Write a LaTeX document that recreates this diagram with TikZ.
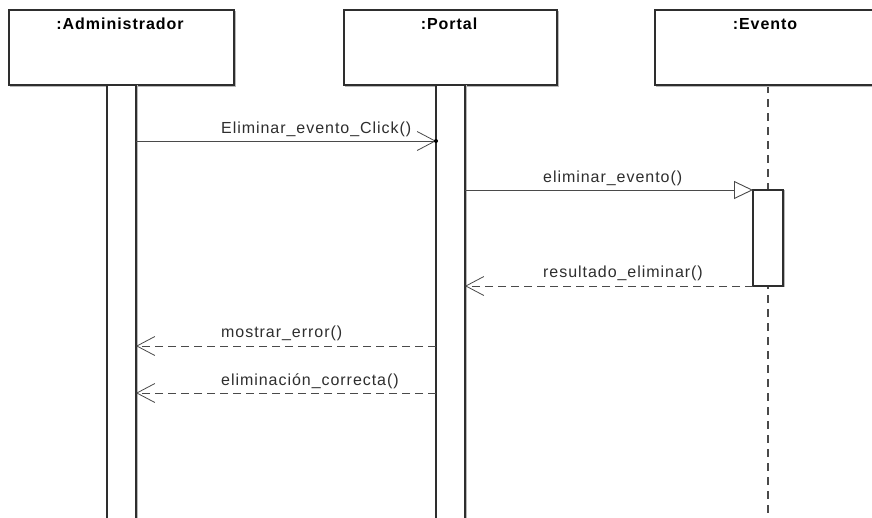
\documentclass[tikz,border=0pt]{standalone}
\usepackage{fontspec}
\setmainfont{Liberation Sans}
\newfontfamily\spacedsans[LetterSpace=6]{Liberation Sans}
\usetikzlibrary{arrows.meta}

\definecolor{ink}{HTML}{2E2E2E}
\definecolor{wire}{HTML}{4A4A4A}
\definecolor{shade}{HTML}{B8B8B8}

\tikzset{
  objbox/.style={draw=ink, line width=1.2pt, fill=white, inner sep=0pt, outer sep=0pt,
    preaction={draw=shade, line width=1pt, transform canvas={shift={(1.5pt,-1.5pt)}}}},
  actbar/.style={draw=ink, line width=1.1pt, fill=white, inner sep=0pt, outer sep=0pt,
    minimum width=29pt,
    preaction={draw=shade, line width=1pt, transform canvas={shift={(1.5pt,0pt)}}}},
  objtitle/.style={font=\spacedsans\fontsize{16}{19}\selectfont\bfseries, text=black, inner sep=0pt, anchor=base},
  msglabel/.style={font=\spacedsans\fontsize{16}{19}\selectfont, text=ink, inner sep=0pt, anchor=base west},
  lifeline/.style={draw=wire, line width=1.1pt, dash pattern=on 8pt off 6pt},
  callmsg/.style={draw=wire, line width=0.9pt},
  returnmsg/.style={draw=wire, line width=0.9pt, dash pattern=on 8pt off 5pt},
  openhead/.style={-{Straight Barb[length=18pt, width=19pt, line width=0.8pt]}},
  trihead/.style={-{Triangle[open, length=19pt, width=18pt, line width=0.9pt, fill=white]}},
}

\begin{document}
\begin{tikzpicture}[x=1pt, y=-1pt]
\useasboundingbox (0,0) rectangle (872,517);
\clip (0,0) rectangle (872,517);
\fill[white] (0,0) rectangle (872,517);

% bottom of the drawing area for the lifelines
\coordinate (bottom) at (0,530);

% lifeline of :Evento (behind its activation box)
\coordinate (evtaxis) at (768,85);
\draw[lifeline] (evtaxis) -- (evtaxis |- bottom);

% object heads
\node[objbox, minimum width=225pt, minimum height=75pt] (adm) at (121.5,47.5) {};
\node[objbox, minimum width=213pt, minimum height=75pt] (ptl) at (450.5,47.5) {};
\node[objbox, minimum width=226pt, minimum height=75pt] (evt) at (768,47.5) {};

\node[objtitle] (admt) at (120,29) {:Administrador};
\node[objtitle] (ptlt) at (449,29) {:Portal};
\node[objtitle] (evtt) at (765,29) {:Evento};

% activation bars
\node[actbar, minimum height=445pt] (admbar) at (121.5,307.5) {};
\node[actbar, minimum height=445pt] (ptlbar) at (450.5,307.5) {};
\node[actbar, minimum width=30pt, minimum height=96pt] (evtact) at (768,238) {};

% message levels
\coordinate (y1) at (0,141);
\coordinate (y4) at (0,346);
\coordinate (y5) at (0,393);

% Eliminar_evento_Click()
\draw[callmsg, openhead] (admbar.east |- y1) -- (ptlbar.west |- y1);
\fill[black] (ptlbar.west |- y1) circle (2pt);
\node[msglabel] (l1) at (221,133) {Eliminar\_evento\_Click()};

% eliminar_evento()
\draw[callmsg, trihead] (ptlbar.east |- evtact.north) -- (evtact.north west);
\node[msglabel] (l2) at (543,182) {eliminar\_evento()};

% resultado_eliminar()
\draw[returnmsg, openhead] (evtact.south west) -- (ptlbar.east |- evtact.south);
\node[msglabel] (l3) at (543,277) {resultado\_eliminar()};

% mostrar_error()
\draw[returnmsg, openhead] (ptlbar.west |- y4) -- (admbar.east |- y4);
\node[msglabel] (l4) at (221,337) {mostrar\_error()};

% eliminación_correcta()
\draw[returnmsg, openhead] (ptlbar.west |- y5) -- (admbar.east |- y5);
\node[msglabel] (l5) at (221,385) {eliminación\_correcta()};
\end{tikzpicture}
\end{document}
